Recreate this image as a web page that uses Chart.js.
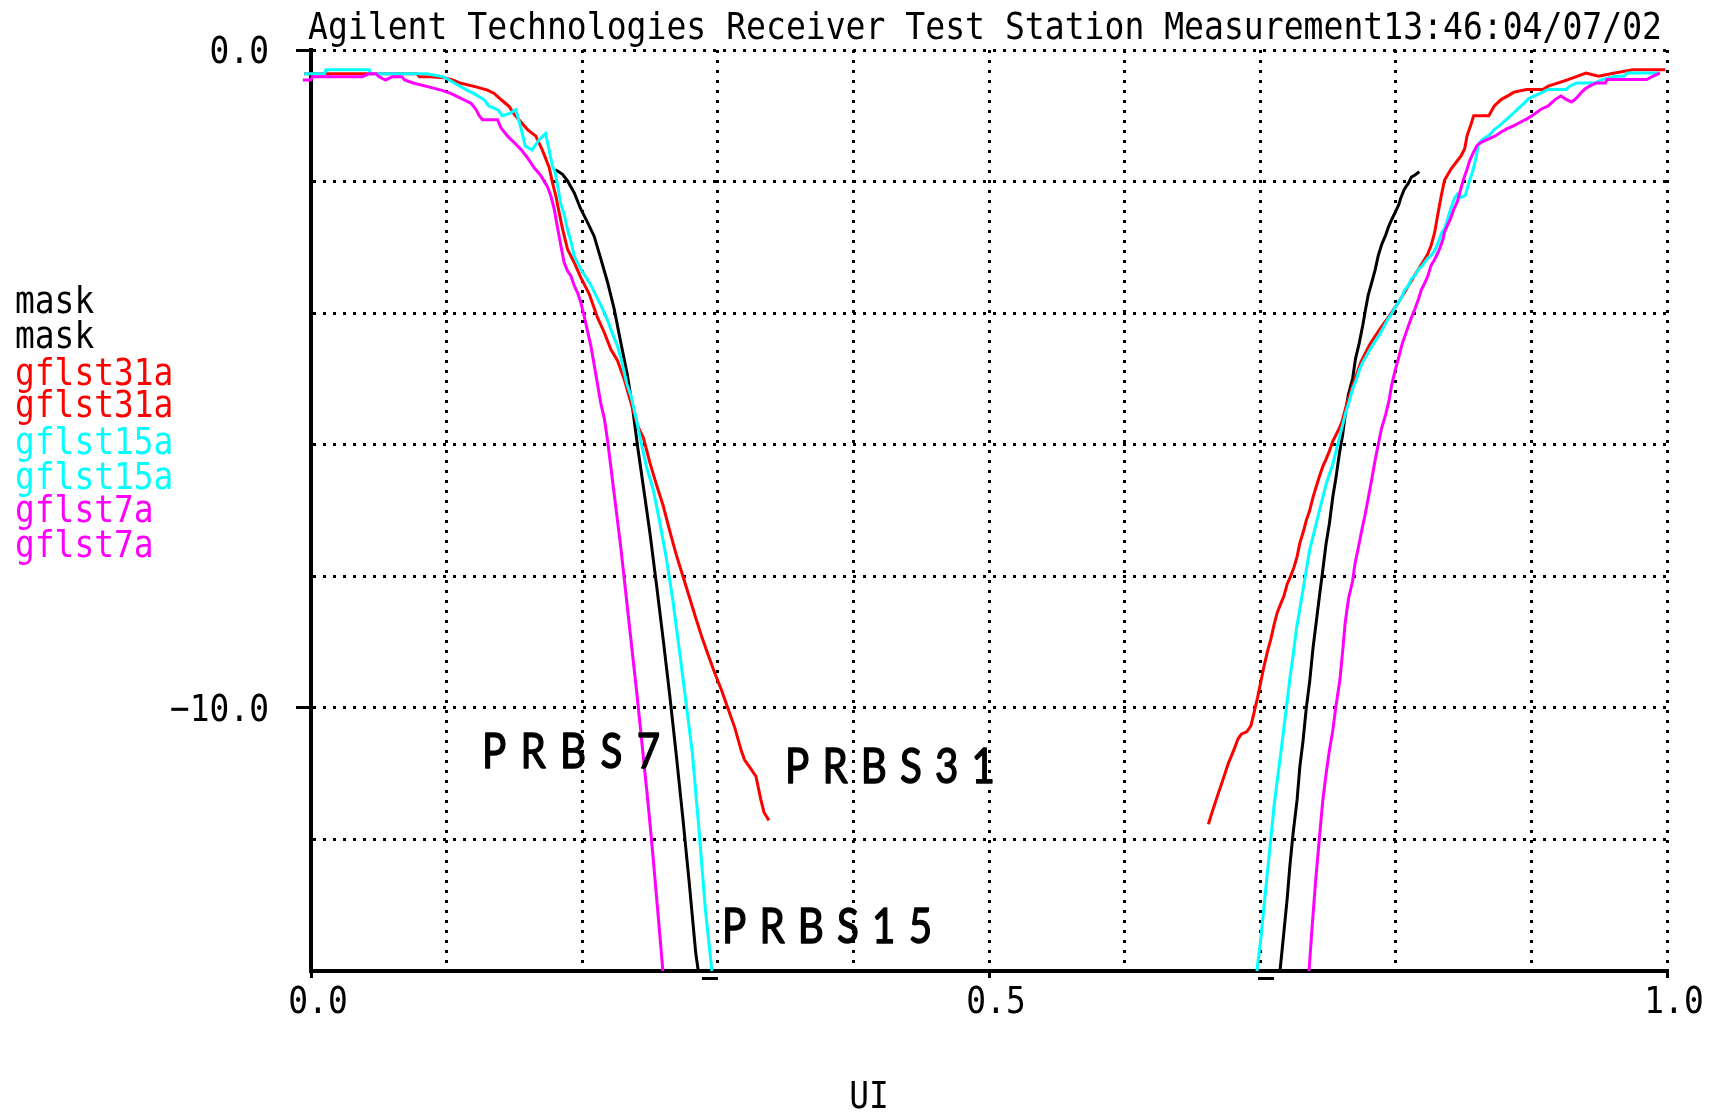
<!DOCTYPE html>
<html>
<head>
<meta charset="utf-8">
<script src="https://cdn.jsdelivr.net/npm/chart.js@4.4.0/dist/chart.umd.min.js"></script>
<style>
html,body{margin:0;padding:0;background:#fff;}
#wrap{width:1717px;height:1114px;}
canvas{display:block;}
</style>
</head>
<body>
<div id="wrap"><canvas id="c" width="1717" height="1114"></canvas></div>
<script>
// ---- data (UI, dB) ----
const titleText = 'Agilent Technologies Receiver Test Station Measurement13:46:04/07/02';
const xAxisTitle = 'UI';
const xTickLabels = {0: '0.0', 0.5: '0.5', 1: '1.0'};
const yTickLabels = {0: '0.0', '-10': '\u221210.0'};
const seriesNames = ['mask', 'mask', 'gflst31a', 'gflst31a', 'gflst15a', 'gflst15a', 'gflst7a', 'gflst7a'];
const seriesColors = ['#000000', '#000000', '#ff0000', '#ff0000', '#00ffff', '#00ffff', '#ff00ff', '#ff00ff'];
const markerX = [0.2942, 0.7043];
const annotations = [
  {text: 'PRBS7', x0: 0.1261, x1: 0.2574, y: -10.91},
  {text: 'PRBS31', x0: 0.3496, x1: 0.5044, y: -11.14},
  {text: 'PRBS15', x0: 0.3031, x1: 0.4580, y: -13.57}
];

const maskLeft = [[0.1800,-1.82],[0.1818,-1.84],[0.1855,-1.89],[0.1892,-1.99],[0.1941,-2.17],[0.1990,-2.42],[0.2039,-2.62],[0.2088,-2.83],[0.2138,-3.18],[0.2187,-3.53],[0.2236,-3.94],[0.2285,-4.45],[0.2334,-4.95],[0.2372,-5.45],[0.2410,-6.05],[0.2452,-6.65],[0.2500,-7.35],[0.2548,-8.13],[0.2596,-8.94],[0.2644,-9.78],[0.2692,-10.68],[0.2740,-11.63],[0.2788,-12.63],[0.2837,-13.72],[0.2856,-14.00]];
const maskRight = [[0.7146,-14.00],[0.7175,-13.40],[0.7199,-12.90],[0.7219,-12.40],[0.7243,-11.90],[0.7272,-11.40],[0.7292,-10.90],[0.7316,-10.50],[0.7340,-10.00],[0.7365,-9.60],[0.7389,-9.10],[0.7413,-8.70],[0.7437,-8.30],[0.7462,-7.90],[0.7486,-7.50],[0.7510,-7.20],[0.7535,-6.80],[0.7559,-6.50],[0.7583,-6.15],[0.7608,-5.85],[0.7630,-5.50],[0.7650,-5.24],[0.7682,-4.99],[0.7703,-4.69],[0.7730,-4.46],[0.7757,-4.18],[0.7778,-3.93],[0.7796,-3.73],[0.7823,-3.53],[0.7849,-3.33],[0.7870,-3.13],[0.7897,-2.95],[0.7924,-2.82],[0.7948,-2.68],[0.7969,-2.58],[0.7995,-2.47],[0.8022,-2.35],[0.8035,-2.26],[0.8062,-2.12],[0.8094,-2.02],[0.8115,-1.93],[0.8142,-1.90],[0.8173,-1.85]];
const gflst31aLeft = [[-0.005,-0.36],[0.078,-0.36],[0.080,-0.405],[0.088,-0.405],[0.098,-0.42],[0.1044,-0.456],[0.1106,-0.506],[0.1209,-0.557],[0.1302,-0.61],[0.1351,-0.66],[0.1405,-0.76],[0.1462,-0.86],[0.1499,-0.98],[0.1597,-1.21],[0.1658,-1.31],[0.1708,-1.53],[0.1757,-1.79],[0.1781,-2.02],[0.1806,-2.22],[0.1830,-2.47],[0.1855,-2.72],[0.1892,-3.03],[0.1941,-3.23],[0.1990,-3.46],[0.2052,-3.71],[0.2113,-4.07],[0.2162,-4.29],[0.2211,-4.55],[0.2260,-4.72],[0.2309,-5.00],[0.2359,-5.36],[0.2408,-5.71],[0.2452,-5.90],[0.2500,-6.28],[0.2548,-6.61],[0.2596,-6.92],[0.2644,-7.30],[0.2692,-7.66],[0.2740,-7.98],[0.2788,-8.30],[0.2837,-8.63],[0.2885,-8.94],[0.2933,-9.22],[0.2981,-9.49],[0.3029,-9.74],[0.3077,-10.02],[0.3125,-10.30],[0.3173,-10.65],[0.3197,-10.79],[0.3245,-10.93],[0.3281,-11.04],[0.3317,-11.39],[0.3341,-11.59],[0.3377,-11.71]];
const gflst31aRight = [[0.6618,-11.77],[0.6643,-11.60],[0.6667,-11.45],[0.6691,-11.30],[0.6716,-11.15],[0.6740,-11.00],[0.6764,-10.85],[0.6788,-10.73],[0.6813,-10.60],[0.6837,-10.47],[0.6861,-10.40],[0.6902,-10.36],[0.6932,-10.27],[0.6956,-10.06],[0.6981,-9.84],[0.7005,-9.60],[0.7029,-9.36],[0.7053,-9.15],[0.7078,-8.96],[0.7102,-8.74],[0.7126,-8.55],[0.7151,-8.42],[0.7175,-8.30],[0.7199,-8.12],[0.7224,-8.00],[0.7248,-7.87],[0.7272,-7.70],[0.7292,-7.50],[0.7321,-7.30],[0.7340,-7.15],[0.7365,-7.00],[0.7389,-6.80],[0.7413,-6.64],[0.7437,-6.48],[0.7462,-6.33],[0.7486,-6.22],[0.7510,-6.10],[0.7535,-5.95],[0.7559,-5.85],[0.7583,-5.75],[0.7603,-5.65],[0.7644,-5.34],[0.7690,-5.05],[0.7743,-4.74],[0.7810,-4.47],[0.7876,-4.26],[0.7956,-4.03],[0.8022,-3.83],[0.8094,-3.58],[0.8168,-3.33],[0.8234,-3.11],[0.8261,-2.97],[0.8287,-2.77],[0.8309,-2.51],[0.8335,-2.22],[0.8359,-1.98],[0.8407,-1.81],[0.8455,-1.68],[0.8481,-1.61],[0.8508,-1.50],[0.8526,-1.30],[0.8553,-1.14],[0.8574,-1.00],[0.8686,-1.00],[0.8726,-0.85],[0.8779,-0.75],[0.8832,-0.69],[0.8872,-0.64],[0.8964,-0.60],[0.9084,-0.60],[0.9124,-0.55],[0.9198,-0.50],[0.9270,-0.45],[0.9336,-0.40],[0.9402,-0.35],[0.9495,-0.40],[0.9615,-0.35],[0.9748,-0.30],[0.9987,-0.30]];
const gflst15aLeft = [[-0.005,-0.36],[0.010,-0.36],[0.011,-0.30],[0.043,-0.30],[0.044,-0.36],[0.085,-0.36],[0.097,-0.405],[0.102,-0.456],[0.106,-0.506],[0.115,-0.61],[0.120,-0.66],[0.128,-0.76],[0.131,-0.85],[0.138,-0.91],[0.141,-1.00],[0.147,-0.96],[0.151,-0.91],[0.153,-1.05],[0.155,-1.20],[0.158,-1.46],[0.163,-1.52],[0.168,-1.37],[0.173,-1.27],[0.176,-1.56],[0.178,-1.76],[0.180,-1.86],[0.182,-2.07],[0.184,-2.32],[0.187,-2.52],[0.189,-2.72],[0.192,-2.93],[0.194,-3.13],[0.199,-3.33],[0.206,-3.56],[0.214,-3.89],[0.219,-4.12],[0.221,-4.24],[0.226,-4.50],[0.229,-4.72],[0.231,-4.90],[0.233,-5.08],[0.236,-5.26],[0.240,-5.62],[0.2428,-5.90],[0.2476,-6.35],[0.2524,-6.68],[0.2572,-7.18],[0.2620,-7.72],[0.2668,-8.36],[0.2716,-9.11],[0.2764,-9.89],[0.2812,-10.68],[0.2860,-11.82],[0.2909,-13.08],[0.2957,-14.00]];
const gflst15aRight = [[0.6976,-14.00],[0.7005,-13.50],[0.7029,-13.00],[0.7053,-12.50],[0.7078,-12.00],[0.7102,-11.50],[0.7126,-11.10],[0.7151,-10.70],[0.7175,-10.30],[0.7199,-9.90],[0.7219,-9.55],[0.7243,-9.20],[0.7267,-8.80],[0.7292,-8.50],[0.7316,-8.20],[0.7340,-7.90],[0.7365,-7.60],[0.7389,-7.40],[0.7413,-7.20],[0.7437,-7.00],[0.7462,-6.80],[0.7486,-6.60],[0.7510,-6.45],[0.7535,-6.30],[0.7559,-6.10],[0.7583,-5.90],[0.7608,-5.70],[0.7632,-5.50],[0.7658,-5.33],[0.7682,-5.15],[0.7703,-5.05],[0.7730,-4.87],[0.7757,-4.74],[0.7778,-4.67],[0.7804,-4.57],[0.7850,-4.42],[0.7876,-4.34],[0.7903,-4.24],[0.7924,-4.16],[0.7942,-4.09],[0.7969,-4.01],[0.7995,-3.91],[0.8022,-3.83],[0.8043,-3.76],[0.8062,-3.66],[0.8094,-3.58],[0.8115,-3.48],[0.8142,-3.43],[0.8168,-3.33],[0.8195,-3.28],[0.8234,-3.17],[0.8261,-3.12],[0.8287,-3.05],[0.8314,-2.92],[0.8340,-2.77],[0.8359,-2.72],[0.8386,-2.54],[0.8407,-2.40],[0.8434,-2.25],[0.8455,-2.19],[0.8481,-2.24],[0.8513,-2.21],[0.8526,-2.11],[0.8540,-2.01],[0.8566,-1.85],[0.8593,-1.63],[0.8606,-1.45],[0.8620,-1.40],[0.8646,-1.35],[0.8686,-1.30],[0.8726,-1.21],[0.8765,-1.15],[0.8792,-1.10],[0.8819,-1.05],[0.8845,-1.00],[0.8872,-0.95],[0.8898,-0.90],[0.8925,-0.85],[0.8951,-0.80],[0.8978,-0.74],[0.9031,-0.69],[0.9084,-0.64],[0.9124,-0.60],[0.9256,-0.60],[0.9283,-0.55],[0.9336,-0.50],[0.9469,-0.50],[0.9522,-0.45],[0.9615,-0.40],[0.9681,-0.40],[0.9708,-0.35],[0.9947,-0.35]];
const gflst7aLeft = [[-0.006,-0.456],[0.000,-0.456],[0.001,-0.405],[0.038,-0.405],[0.043,-0.36],[0.048,-0.36],[0.050,-0.405],[0.055,-0.456],[0.060,-0.405],[0.067,-0.405],[0.069,-0.456],[0.076,-0.506],[0.086,-0.557],[0.096,-0.61],[0.103,-0.66],[0.108,-0.71],[0.113,-0.76],[0.118,-0.81],[0.1216,-0.90],[0.124,-1.00],[0.1265,-1.06],[0.1376,-1.06],[0.1400,-1.18],[0.1450,-1.31],[0.1499,-1.41],[0.1548,-1.51],[0.1597,-1.64],[0.1646,-1.79],[0.1695,-1.91],[0.1744,-2.08],[0.1769,-2.22],[0.1794,-2.42],[0.1818,-2.70],[0.1843,-2.98],[0.1867,-3.23],[0.1892,-3.36],[0.1916,-3.43],[0.1941,-3.58],[0.1966,-3.69],[0.1990,-3.84],[0.2015,-4.05],[0.2039,-4.27],[0.2064,-4.50],[0.2088,-4.78],[0.2113,-5.08],[0.2138,-5.38],[0.2163,-5.60],[0.2188,-5.95],[0.2212,-6.35],[0.2236,-6.75],[0.2260,-7.15],[0.2284,-7.55],[0.2308,-8.00],[0.2332,-8.45],[0.2356,-8.90],[0.2380,-9.35],[0.2404,-9.80],[0.2428,-10.28],[0.2452,-10.77],[0.2476,-11.25],[0.2500,-11.76],[0.2524,-12.30],[0.2548,-12.87],[0.2572,-13.44],[0.2595,-14.00]];
const gflst7aRight = [[0.7360,-14.00],[0.7384,-13.30],[0.7408,-12.65],[0.7437,-11.97],[0.7462,-11.40],[0.7486,-11.00],[0.7510,-10.65],[0.7535,-10.35],[0.7559,-9.97],[0.7588,-9.57],[0.7608,-9.14],[0.7627,-8.70],[0.7652,-8.33],[0.7681,-8.08],[0.7700,-7.80],[0.7725,-7.55],[0.7749,-7.30],[0.7774,-7.06],[0.7798,-6.80],[0.7823,-6.52],[0.7846,-6.25],[0.7870,-6.00],[0.7895,-5.75],[0.7924,-5.55],[0.7950,-5.33],[0.7969,-5.10],[0.7995,-4.87],[0.8022,-4.67],[0.8048,-4.46],[0.8075,-4.30],[0.8109,-4.10],[0.8142,-3.93],[0.8168,-3.78],[0.8189,-3.64],[0.8216,-3.53],[0.8234,-3.45],[0.8261,-3.27],[0.8282,-3.20],[0.8309,-3.09],[0.8327,-3.00],[0.8349,-2.87],[0.8359,-2.77],[0.8380,-2.67],[0.8402,-2.57],[0.8428,-2.42],[0.8455,-2.30],[0.8481,-2.10],[0.8500,-1.96],[0.8526,-1.81],[0.8545,-1.68],[0.8574,-1.55],[0.8600,-1.45],[0.8633,-1.40],[0.8686,-1.35],[0.8739,-1.30],[0.8774,-1.25],[0.8818,-1.20],[0.8872,-1.15],[0.8925,-1.09],[0.8964,-1.05],[0.9004,-1.00],[0.9071,-0.90],[0.9124,-0.85],[0.9150,-0.80],[0.9177,-0.75],[0.9217,-0.70],[0.9256,-0.75],[0.9296,-0.79],[0.9323,-0.75],[0.9349,-0.69],[0.9370,-0.64],[0.9397,-0.59],[0.9429,-0.55],[0.9480,-0.50],[0.9546,-0.50],[0.9558,-0.45],[0.9851,-0.45],[0.9894,-0.40],[0.9947,-0.35]];

const seriesData = [maskLeft, maskRight, gflst31aLeft, gflst31aRight, gflst15aLeft, gflst15aRight, gflst7aLeft, gflst7aRight];
const drawOrder = [4, 4, 3, 3, 2, 2, 1, 1];

// ---- drawing helpers ----
const MONO = '"DejaVu Sans Mono", "Liberation Mono", monospace';
const MONO_SIZE = 38;
const MONO_ADV = 19.8;
function monoText(ctx, text, x, y, align, fitWidth) {
  ctx.font = MONO_SIZE + 'px ' + MONO;
  const w = ctx.measureText(text).width;
  const sx = fitWidth ? fitWidth / w : MONO_ADV / ctx.measureText('0').width;
  const dw = w * sx;
  const x0 = align === 'right' ? x - dw : (align === 'center' ? x - dw / 2 : x);
  ctx.save();
  ctx.translate(x0, y);
  ctx.scale(sx, 1);
  ctx.textAlign = 'left';
  ctx.textBaseline = 'alphabetic';
  ctx.fillText(text, 0, 0);
  ctx.restore();
}
const LABEL_SX = 0.84;
function spacedText(ctx, text, left, right, baseline) {
  ctx.font = '48px Lato, "Open Sans", sans-serif';
  ctx.textAlign = 'left';
  ctx.textBaseline = 'alphabetic';
  ctx.strokeStyle = '#000';
  ctx.lineWidth = 1.4;
  ctx.lineJoin = 'round';
  const chars = Array.from(text);
  const ws = chars.map(c => ctx.measureText(c).width * LABEL_SX);
  const total = ws.reduce((a, b) => a + b, 0);
  const gap = (right - left - total) / (chars.length - 1);
  let x = left;
  chars.forEach((c, i) => {
    ctx.save();
    ctx.translate(x, baseline);
    ctx.scale(LABEL_SX, 1);
    ctx.fillText(c, 0, 0);
    ctx.strokeText(c, 0, 0);
    ctx.restore();
    x += ws[i] + gap;
  });
}
function near(a, b) { return Math.abs(a - b) < 1e-6; }

const overlay = {
  id: 'overlay',
  afterDraw(chart) {
    const ctx = chart.ctx;
    const xs = chart.scales.x, ys = chart.scales.y;
    const area = chart.chartArea;
    ctx.save();
    ctx.fillStyle = '#000';
    // title
    monoText(ctx, titleText, 308, 39, 'left', 1354);
    // legend
    const baselines = [313, 348, 385, 417, 454, 489, 522, 557];
    chart.data.datasets.forEach((ds, i) => {
      ctx.fillStyle = ds.borderColor;
      monoText(ctx, ds.label, 15, baselines[i], 'left');
    });
    ctx.fillStyle = '#000';
    // y tick labels
    Object.keys(yTickLabels).forEach(k => {
      const py = ys.getPixelForValue(Number(k));
      monoText(ctx, yTickLabels[k], 269, py + 13, 'right');
    });
    // x tick labels
    Object.keys(xTickLabels).forEach(k => {
      const px = xs.getPixelForValue(Number(k));
      monoText(ctx, xTickLabels[k], px + 7, area.bottom + 42, 'center');
    });
    // axis title
    monoText(ctx, xAxisTitle, 869, 1108, 'center');
    // markers under x axis
    markerX.forEach(v => {
      const px = xs.getPixelForValue(v);
      ctx.fillRect(px - 8, area.bottom + 6, 16, 3);
    });
    // annotations
    annotations.forEach(a => {
      spacedText(ctx, a.text, xs.getPixelForValue(a.x0), xs.getPixelForValue(a.x1), ys.getPixelForValue(a.y));
    });
    ctx.restore();
  }
};

const datasets = seriesData.map((pts, i) => ({
  label: seriesNames[i],
  data: pts.map(p => ({x: p[0], y: p[1]})),
  borderColor: seriesColors[i],
  backgroundColor: seriesColors[i],
  borderWidth: 3,
  pointRadius: 0,
  tension: 0,
  fill: false,
  clip: false,
  order: drawOrder[i]
}));

new Chart(document.getElementById('c'), {
  type: 'line',
  data: {datasets},
  options: {
    responsive: false,
    animation: false,
    devicePixelRatio: 1,
    layout: {padding: {left: 0, top: 50, right: 50, bottom: 0}},
    plugins: {legend: {display: false}, title: {display: false}, tooltip: {enabled: false}},
    scales: {
      x: {
        type: 'linear', min: 0, max: 1,
        afterFit(s) { s.height = 143; },
        ticks: {stepSize: 0.1, display: false},
        grid: {
          color: '#000', lineWidth: 3, drawTicks: true, tickLength: 7, tickWidth: 3,
          tickColor: c => (c.tick && (near(c.tick.value, 0) || near(c.tick.value, 0.5) || near(c.tick.value, 1))) ? '#000' : 'rgba(0,0,0,0)'
        },
        border: {display: true, color: '#000', width: 4, dash: [3, 7]}
      },
      y: {
        type: 'linear', min: -14, max: 0,
        afterFit(s) { s.width = 311; },
        ticks: {stepSize: 2, display: false},
        grid: {
          color: '#000', lineWidth: 3, drawTicks: true, tickLength: 15, tickWidth: 3,
          tickColor: c => (c.tick && (near(c.tick.value, 0) || near(c.tick.value, -10))) ? '#000' : 'rgba(0,0,0,0)'
        },
        border: {display: true, color: '#000', width: 4, dash: [3, 7]}
      }
    }
  },
  plugins: [overlay]
});
</script>
</body>
</html>
